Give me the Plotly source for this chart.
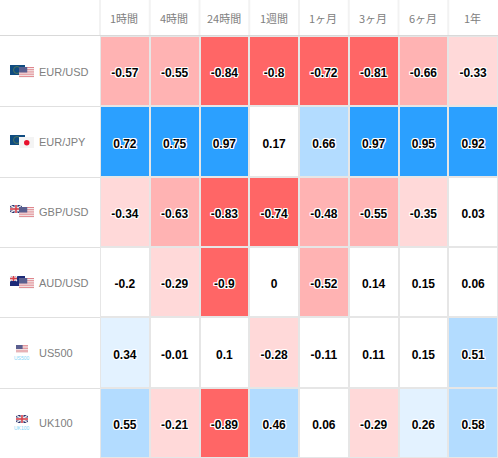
import plotly.graph_objects as go

columns = ["1時間", "4時間", "24時間", "1週間", "1ヶ月", "3ヶ月", "6ヶ月", "1年"]
instruments = ["EUR/USD", "EUR/JPY", "GBP/USD", "AUD/USD", "US500", "UK100"]
eur_usd = [-0.57, -0.55, -0.84, -0.8, -0.72, -0.81, -0.66, -0.33]
eur_jpy = [0.72, 0.75, 0.97, 0.17, 0.66, 0.97, 0.95, 0.92]
gbp_usd = [-0.34, -0.63, -0.83, -0.74, -0.48, -0.55, -0.35, 0.03]
aud_usd = [-0.2, -0.29, -0.9, 0, -0.52, 0.14, 0.15, 0.06]
us500 = [0.34, -0.01, 0.1, -0.28, -0.11, 0.11, 0.15, 0.51]
uk100 = [0.55, -0.21, -0.89, 0.46, 0.06, -0.29, 0.26, 0.58]
rows = [eur_usd, eur_jpy, gbp_usd, aud_usd, us500, uk100]

W, H = 498, 458
RED3, RED2, RED1 = "#ff6666", "#ffb3b3", "#ffd9d9"
BLUE1, BLUE2, BLUE3 = "#e3f2ff", "#b3dcff", "#2ba0ff"
bins = [(-1, -0.7, RED3), (-0.7, -0.4, RED2), (-0.4, -0.205, RED1), (-0.205, 0.2, "#ffffff"),
        (0.2, 0.4, BLUE1), (0.4, 0.7, BLUE2), (0.7, 1, BLUE3)]
scale = []
for lo, hi, c in bins:
    scale += [[(lo + 1) / 2, c], [(hi + 1) / 2, c]]

fig = go.Figure()
fig.add_trace(go.Heatmap(z=rows, x=columns, y=instruments, zmin=-1, zmax=1, colorscale=scale,
                         showscale=False, xgap=2, ygap=2, hoverinfo="skip"))
xs = [c for _ in instruments for c in columns]
ys = [r for r in instruments for _ in columns]
txt = [str(v) for row in rows for v in row]
# The value labels sit on a twin y axis nudged by about 3 px, as in the reference.
fig.add_trace(go.Scatter(x=xs, y=ys, text=txt, mode="text", hoverinfo="skip", yaxis="y2",
                         textfont=dict(family="Liberation Sans", size=12, color="#000000", weight="bold",
                                       shadow="1px 0 0 #fff, -1px 0 0 #fff, 0 1px 0 #fff, 0 -1px 0 #fff, "
                                              "1px 1px 0 #fff, -1px -1px 0 #fff, 1px -1px 0 #fff, -1px 1px 0 #fff")))

shapes = []
def px(x0, y0, x1, y1, c, kind="rect"):
    shapes.append(dict(type=kind, xref="paper", yref="paper", x0=x0 / W, x1=x1 / W, y0=1 - y0 / H, y1=1 - y1 / H,
                       fillcolor=c, line_width=0, layer="above"))

def eur(x, y):
    px(x, y, x + 15, y + 10, "#0f4c81")
    shapes.append(dict(type="circle", xref="paper", yref="paper", x0=(x + 3.5) / W, x1=(x + 10.5) / W,
                       y0=1 - (y + 1.5) / H, y1=1 - (y + 8.5) / H, fillcolor="rgba(0,0,0,0)",
                       line=dict(color="#5f7f4f", width=0.8), layer="above"))
def usa(x, y, w=15, h=11):
    px(x, y, x + w, y + h, "#f6f6f6")
    n = 5
    for i in range(n):
        px(x, y + i * h / n, x + w, y + (i + .5) * h / n, "#e0858c")
    px(x, y, x + w * .55, y + h * .5, "#5a5f8f")
def jpn(x, y):
    px(x, y, x + 15, y + 11, "#f4f4f4")
    px(x + 5, y + 3, x + 10.5, y + 8.5, "#e8112d", "circle")
def gbr(x, y, w=12, h=8):
    px(x, y, x + w, y + h, "#28306e")
    shapes.append(dict(type="line", xref="paper", yref="paper", x0=x / W, x1=(x + w) / W, y0=1 - y / H, y1=1 - (y + h) / H,
                       line=dict(color="#f0f0f0", width=1.5), layer="above"))
    shapes.append(dict(type="line", xref="paper", yref="paper", x0=x / W, x1=(x + w) / W, y0=1 - (y + h) / H, y1=1 - y / H,
                       line=dict(color="#f0f0f0", width=1.5), layer="above"))
    px(x + w / 2 - 1.5, y, x + w / 2 + 1.5, y + h, "#f0f0f0")
    px(x, y + h / 2 - 1.5, x + w, y + h / 2 + 1.5, "#f0f0f0")
    px(x + w / 2 - .8, y, x + w / 2 + .8, y + h, "#d8404a")
    px(x, y + h / 2 - .8, x + w, y + h / 2 + .8, "#d8404a")
def aus(x, y):
    px(x, y, x + 15, y + 10, "#1c2a78")
    gbr(x, y, 7, 5)

eur(10, 65); usa(19, 67)
eur(10, 135); jpn(19, 137)
gbr(10, 205); usa(19, 207)
aus(10, 276); usa(19, 278)
usa(16, 345, 12, 8)
gbr(16, 415, 12, 8)

annotations = []
def label(x, y, t, size, color, family="Liberation Sans", anchor="left"):
    annotations.append(dict(text=t, x=x / W, y=1 - y / H, xref="paper", yref="paper", showarrow=False,
                            xanchor=anchor, yanchor="middle", font=dict(size=size, color=color, family=family)))

for name, cy in zip(instruments, [72, 142, 212, 283, 353, 423]):
    label(36.5, cy, name, 11, "#808080")
label(22, 358, "US500", 5, "#7fd4f7", anchor="center")
label(22, 428, "UK100", 5, "#7fd4f7", anchor="center")
for i, name in enumerate(columns):
    label(100 + (i + .5) * 398 / 8 - 0.5, 17.5, name, 11, "#808080", "Noto Sans CJK JP", "center")
    px(99 + i * 398 / 8, 0, 101 + i * 398 / 8, 36, "#f2f2f2")
for cy in [106.5, 177.5, 247.5, 317.5, 388.5]:
    px(0, cy - 0.5, 100, cy + 0.5, "#e0e0e0")
px(0, 35, W, 36, "#d9d9d9")

nudge = 3 / (422 / 6)
fig.update_layout(width=W, height=H, margin=dict(l=0, r=0, t=0, b=0), paper_bgcolor="#ffffff", plot_bgcolor="#e6e6e6",
                  showlegend=False, shapes=shapes, annotations=annotations,
                  xaxis=dict(domain=[100 / W, 1], type="category", categoryarray=columns, range=[-0.5, 7.5],
                             showticklabels=False, showgrid=False, zeroline=False, fixedrange=True),
                  yaxis=dict(domain=[0, 1 - 36 / H], type="category", categoryarray=instruments, range=[5.5, -0.5],
                             showticklabels=False, showgrid=False, zeroline=False, fixedrange=True),
                  yaxis2=dict(domain=[0, 1 - 36 / H], anchor="x", overlaying="y", type="category",
                              categoryarray=instruments, range=[5.5 - nudge, -0.5 - nudge],
                              showticklabels=False, showgrid=False, zeroline=False, fixedrange=True))
fig.write_html("out.html", config={"displayModeBar": False},
               post_script="document.body.style.margin='0';document.body.style.overflow='hidden';")
